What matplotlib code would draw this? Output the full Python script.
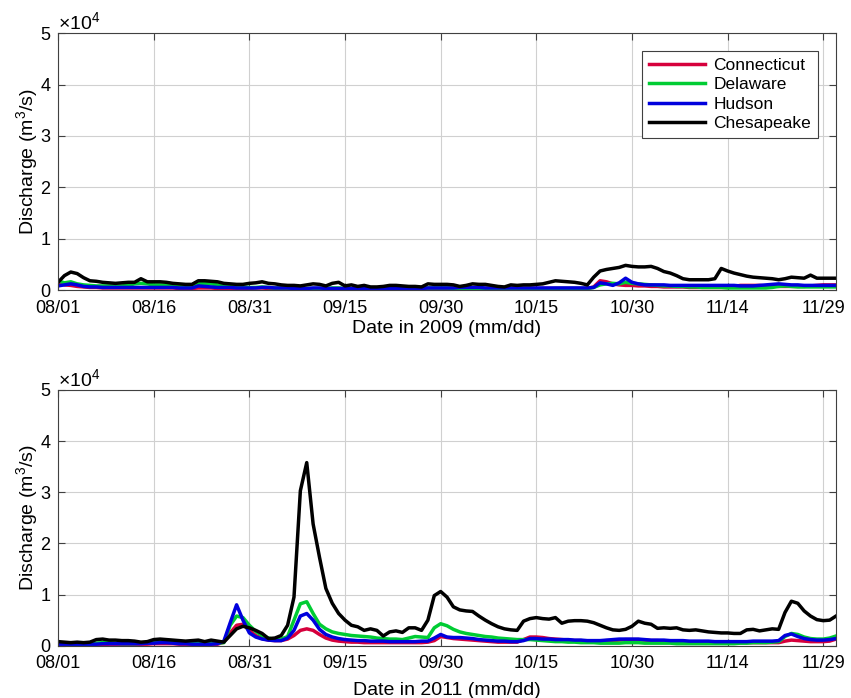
import numpy as np
import pandas as pd
import matplotlib
matplotlib.use("Agg")
import matplotlib.pyplot as plt
import matplotlib.dates as mdates
from matplotlib.ticker import ScalarFormatter

plt.rcParams['font.family'] = ['Liberation Sans', 'DejaVu Sans']
plt.rcParams['mathtext.fontset'] = 'custom'
plt.rcParams['mathtext.rm'] = 'Liberation Sans'

rivers = ['Connecticut', 'Delaware', 'Hudson', 'Chesapeake']
colors = ['#d6003c', '#00cc33', '#0000dd', '#000000']

# daily discharge (m3/s), 08/01 .. 12/01
conn_2009 = [1500, 1000, 900, 700, 600, 500, 500, 400, 400, 400,
             400, 400, 400, 400, 400, 400, 400, 400, 400, 300,
             300, 300, 400, 400, 400, 300, 300, 200, 200, 200,
             300, 400, 400, 300, 300, 300, 300, 300, 300, 200,
             200, 200, 200, 200, 200, 200, 200, 200, 200, 200,
             200, 200, 200, 200, 200, 200, 200, 200, 300, 300,
             300, 300, 300, 300, 300, 300, 300, 300, 300, 300,
             300, 300, 300, 300, 300, 300, 300, 300, 300, 300,
             300, 300, 300, 300, 600, 1800, 1600, 1200, 1000, 900,
             900, 800, 800, 700, 700, 600, 600, 600, 600, 500,
             500, 500, 500, 500, 500, 500, 700, 900, 900, 900,
             900, 800, 800, 700, 700, 700, 700, 700, 800, 900,
             1000, 1000, 1000]
dela_2009 = [1800, 1400, 1600, 1200, 1000, 900, 800, 800, 800, 800,
             800, 900, 1200, 1300, 1200, 1000, 1000, 900, 800, 700,
             700, 800, 1200, 1300, 1200, 1000, 800, 700, 600, 600,
             500, 500, 600, 500, 400, 400, 400, 300, 300, 300,
             300, 300, 300, 400, 400, 300, 300, 300, 300, 300,
             300, 300, 300, 300, 300, 300, 300, 300, 400, 400,
             400, 400, 300, 300, 300, 300, 300, 300, 200, 200,
             200, 200, 200, 200, 200, 200, 200, 200, 300, 300,
             300, 300, 300, 300, 500, 1000, 1200, 1300, 1200, 1500,
             1300, 1200, 1100, 1000, 900, 800, 800, 700, 700, 600,
             600, 500, 500, 500, 500, 400, 400, 400, 400, 400,
             400, 400, 500, 700, 800, 700, 600, 600, 600, 600,
             600, 600, 600]
huds_2009 = [800, 1000, 1200, 1000, 700, 600, 600, 500, 500, 500,
             500, 500, 500, 500, 500, 500, 500, 500, 500, 400,
             400, 400, 800, 700, 600, 500, 500, 500, 400, 400,
             400, 400, 500, 500, 400, 400, 400, 300, 300, 300,
             400, 400, 300, 300, 300, 300, 300, 300, 300, 300,
             300, 300, 300, 300, 300, 300, 300, 300, 400, 400,
             400, 400, 400, 500, 500, 500, 500, 400, 400, 400,
             400, 400, 400, 400, 400, 400, 400, 400, 400, 400,
             400, 400, 400, 400, 500, 1400, 1200, 900, 1400, 2300,
             1500, 1200, 1000, 1000, 1000, 1000, 900, 900, 900, 900,
             900, 900, 900, 900, 900, 900, 900, 800, 800, 800,
             900, 1000, 1100, 1200, 1100, 1000, 1000, 900, 900, 900,
             900, 900, 900]
ches_2009 = [1500, 2800, 3500, 3200, 2400, 1800, 1700, 1500, 1400, 1300,
             1400, 1500, 1500, 2200, 1600, 1600, 1600, 1500, 1300, 1200,
             1100, 1100, 1800, 1800, 1700, 1600, 1300, 1200, 1100, 1100,
             1300, 1400, 1600, 1300, 1200, 1000, 900, 900, 800, 1000,
             1200, 1100, 800, 1300, 1500, 800, 1000, 700, 900, 600,
             600, 700, 900, 900, 800, 700, 700, 600, 1200, 1100,
             1100, 1100, 1000, 700, 900, 1200, 1100, 1100, 900, 700,
             600, 1000, 900, 1000, 1000, 1100, 1200, 1500, 1800, 1700,
             1600, 1500, 1300, 1000, 2500, 3700, 4000, 4200, 4400, 4800,
             4600, 4500, 4500, 4600, 4200, 3600, 3300, 2800, 2200, 2000,
             2000, 2000, 2000, 2200, 4200, 3700, 3300, 3000, 2700, 2500,
             2400, 2300, 2200, 2000, 2200, 2500, 2400, 2300, 2900, 2300,
             2300, 2300, 2300]

conn_2011 = [200, 200, 200, 200, 200, 200, 200, 200, 300, 300,
             300, 300, 300, 300, 300, 400, 400, 400, 400, 300,
             300, 300, 300, 300, 300, 300, 700, 2500, 4000, 4200,
             3000, 2000, 1400, 1100, 1000, 1000, 1300, 2000, 3000, 3300,
             3000, 2200, 1500, 1100, 900, 800, 700, 700, 600, 600,
             600, 600, 600, 600, 600, 600, 600, 600, 700, 1000,
             1800, 1600, 1400, 1300, 1200, 1100, 1000, 900, 800, 700,
             700, 700, 700, 1200, 1700, 1700, 1600, 1400, 1300, 1200,
             1100, 1000, 1000, 900, 900, 900, 1000, 1000, 1100, 1200,
             1200, 1200, 1100, 1000, 1000, 900, 900, 800, 800, 700,
             700, 700, 600, 600, 600, 600, 600, 600, 600, 600,
             600, 600, 600, 600, 900, 1100, 1000, 900, 800, 800,
             800, 900, 1300]
dela_2011 = [400, 400, 300, 300, 300, 300, 500, 600, 600, 500,
             400, 400, 400, 500, 600, 900, 1000, 1000, 900, 800,
             700, 600, 600, 500, 500, 500, 600, 4000, 5800, 5500,
             4000, 2800, 2000, 1500, 1200, 1300, 1800, 5000, 8200, 8600,
             6300, 4200, 3300, 2700, 2400, 2200, 2000, 1900, 1800, 1700,
             1500, 1400, 1300, 1300, 1200, 1500, 1800, 1700, 1600, 3500,
             4300, 3900, 3200, 2700, 2400, 2200, 2000, 1800, 1700, 1500,
             1400, 1300, 1200, 1200, 1200, 1100, 1000, 900, 800, 800,
             700, 700, 600, 600, 600, 500, 500, 500, 500, 600,
             600, 600, 500, 500, 500, 500, 500, 400, 400, 400,
             400, 400, 400, 400, 400, 400, 400, 500, 500, 600,
             600, 600, 700, 800, 1800, 2400, 2200, 1700, 1400, 1300,
             1300, 1500, 1900]
huds_2011 = [300, 300, 300, 300, 300, 300, 300, 400, 400, 400,
             400, 400, 400, 400, 500, 500, 600, 600, 500, 400,
             400, 300, 300, 300, 300, 400, 900, 4500, 8000, 5000,
             2500, 1700, 1300, 1100, 1000, 1000, 1500, 3000, 5800, 6300,
             5000, 3200, 2200, 1700, 1400, 1200, 1100, 1000, 1000, 900,
             900, 900, 800, 800, 800, 800, 800, 900, 900, 1500,
             2200, 1700, 1600, 1600, 1500, 1400, 1200, 1100, 1000, 900,
             900, 800, 800, 1000, 1400, 1400, 1300, 1300, 1200, 1200,
             1200, 1100, 1100, 1000, 1000, 1000, 1100, 1200, 1300, 1300,
             1300, 1300, 1200, 1100, 1100, 1100, 1000, 1000, 1000, 900,
             900, 900, 900, 800, 800, 800, 800, 800, 800, 900,
             900, 900, 900, 1000, 2000, 2300, 1800, 1400, 1200, 1100,
             1100, 1200, 1400]
ches_2011 = [800, 700, 600, 700, 600, 700, 1200, 1300, 1100, 1100,
             1000, 1000, 900, 700, 800, 1200, 1300, 1200, 1100, 1000,
             900, 1000, 1100, 800, 1100, 900, 700, 2000, 3300, 3800,
             3500, 3000, 2400, 1400, 1500, 2000, 4000, 9500, 30300, 35800,
             23800, 17300, 11200, 8300, 6300, 5000, 4000, 3700, 3000, 3300,
             3000, 1900, 2700, 2900, 2600, 3500, 3500, 3000, 5000, 9800,
             10600, 9500, 7600, 7000, 6800, 6700, 5800, 5000, 4300, 3700,
             3300, 3100, 3000, 4800, 5300, 5500, 5300, 5200, 5500, 4400,
             4800, 4900, 4900, 4800, 4500, 4000, 3500, 3100, 3000, 3200,
             3800, 4800, 4400, 4200, 3400, 3500, 3400, 3500, 3100, 3000,
             3100, 2900, 2700, 2600, 2500, 2500, 2400, 2400, 3100, 3200,
             2900, 3100, 3300, 3200, 6500, 8700, 8300, 6800, 5800, 5100,
             4900, 5000, 5800]

years = [2009, 2011]
data = {2009: [conn_2009, dela_2009, huds_2009, ches_2009],
        2011: [conn_2011, dela_2011, huds_2011, ches_2011]}

fig = plt.figure(figsize=(8.51, 6.98), dpi=100)
ax1 = fig.add_axes([0.0682, 0.5845, 0.9142, 0.368])
ax2 = fig.add_axes([0.0682, 0.0749, 0.9142, 0.3664])

for ax, yr, lpad in zip([ax1, ax2], years, [2, 7]):
    dates = pd.date_range(f'{yr}-08-01', periods=len(data[yr][0]), freq='D')
    for name, col, vals in zip(rivers, colors, data[yr]):
        ax.plot(dates, vals, color=col, lw=2.5, label=name)
    ax.set_xlim(dates[0], dates[-1])
    ax.set_ylim(0, 50000)
    ax.set_yticks(np.arange(0, 50001, 10000))
    ticks = pd.date_range(f'{yr}-08-01', f'{yr}-11-29', freq='15D')
    ax.set_xticks(ticks)
    ax.xaxis.set_major_formatter(mdates.DateFormatter('%m/%d'))
    fmt = ScalarFormatter(useMathText=True)
    fmt.set_powerlimits((0, 0))
    ax.yaxis.set_major_formatter(fmt)
    ax.yaxis.get_offset_text().set_fontsize(14)
    ax.grid(True, color='#d0d0d0', lw=0.8)
    ax.tick_params(direction='in', top=True, right=True, labelsize=13,
                   length=5, color='#404040')
    ax.tick_params(axis='x', pad=7)
    ax.tick_params(axis='y', pad=5)
    for s in ax.spines.values():
        s.set_color('#404040')
        s.set_linewidth(0.8)
    ax.set_xlabel(f'Date in {yr} (mm/dd)', fontsize=14, labelpad=lpad)
    ax.set_ylabel('Discharge (m$^3$/s)', fontsize=14, labelpad=-1)

leg = ax1.legend(loc='upper right', bbox_to_anchor=(0.988, 0.966), fontsize=12.5,
                 fancybox=False, framealpha=1, edgecolor='#404040',
                 handlelength=3.2, handletextpad=0.5, borderpad=0.4,
                 labelspacing=0.25)
leg.get_frame().set_linewidth(0.8)

fig.savefig('out.png', dpi=100)
